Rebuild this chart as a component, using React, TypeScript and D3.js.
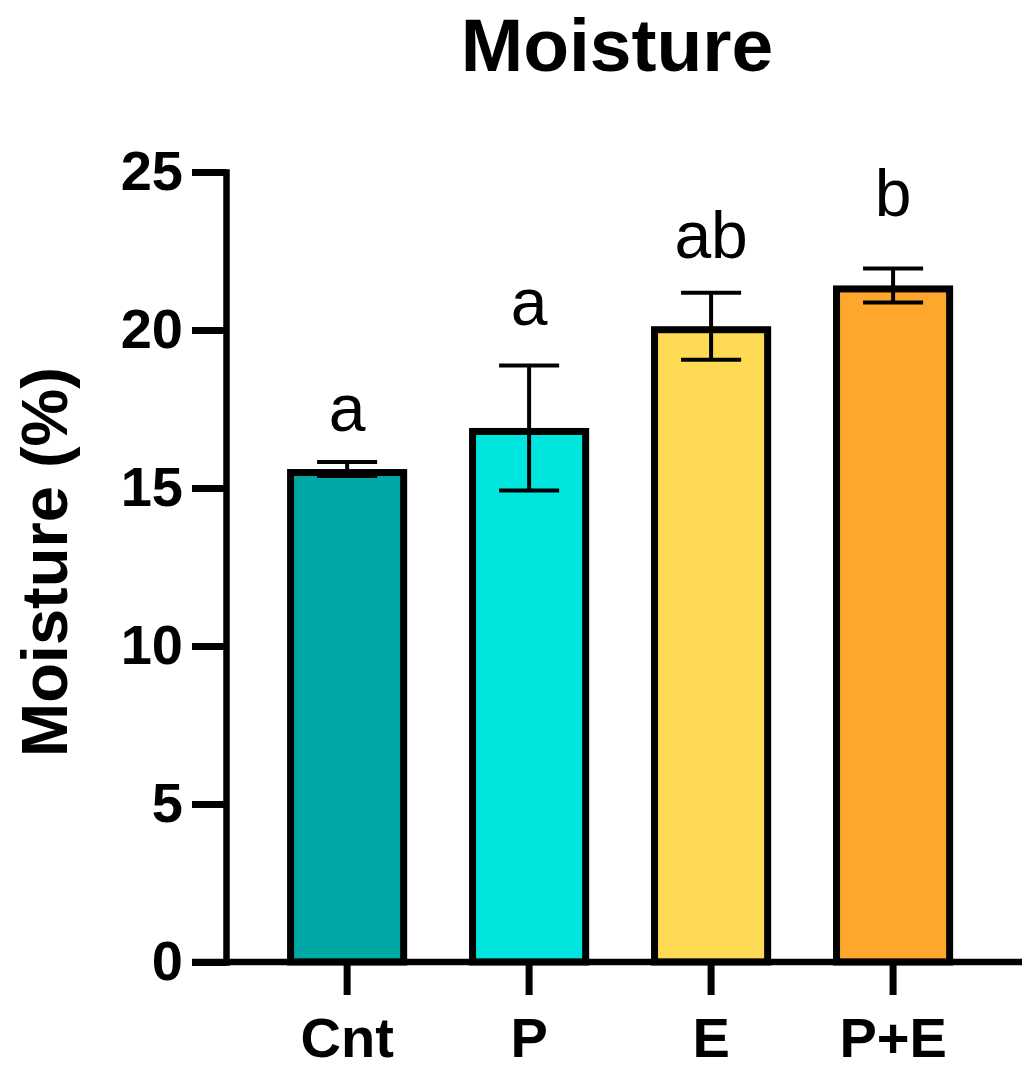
import React, { useEffect, useRef } from 'react';
import * as d3 from 'd3';

const groups = ['Cnt', 'P', 'E', 'P+E'];
const moisture = [15.6, 16.9, 20.12, 21.41];
const errors = [0.22, 1.98, 1.06, 0.54];
const letters = ['a', 'a', 'ab', 'b'];
// height (in % units) where each significance letter sits
const letterAt = [16.8, 20.17, 22.29, 23.61];
const colors = ['#00A8A5', '#00E6DF', '#FFDA55', '#FFA62C'];
const yTicks = [0, 5, 10, 15, 20, 25];

const FONT = '"Liberation Sans", Arial, Helvetica, sans-serif';

export default function App() {
  const svgRef = useRef<SVGSVGElement>(null);

  useEffect(() => {
    if (!svgRef.current) return;
    const svg = d3.select(svgRef.current);
    svg.selectAll('*').remove();

    const x = d3.scaleBand()
      .domain(groups)
      .range([226, 1022])
      .paddingInner(0.34)
      .paddingOuter(0.357)
      .align(0.47);

    const y = d3.scaleLinear()
      .domain([0, 25])
      .range([962, 172]);

    const bw = x.bandwidth();
    const sw = 7;

    // Bars (outer edge at the value, stroke drawn inside)
    svg.append('g')
      .selectAll('rect')
      .data(groups)
      .enter()
      .append('rect')
      .attr('x', (d) => x(d)! + sw / 2)
      .attr('y', (d, i) => y(moisture[i]) + sw / 2)
      .attr('width', bw - sw)
      .attr('height', (d, i) => y(0) - y(moisture[i]) - sw / 2)
      .attr('fill', (d, i) => colors[i])
      .attr('stroke', '#000')
      .attr('stroke-width', sw);

    // Error bars
    const eb = svg.append('g').attr('stroke', '#000').attr('stroke-width', 4);
    groups.forEach((g, i) => {
      const cx = x(g)! + bw / 2;
      const hi = y(moisture[i] + errors[i]);
      const lo = y(moisture[i] - errors[i]);
      eb.append('line').attr('x1', cx).attr('x2', cx).attr('y1', hi).attr('y2', lo);
      eb.append('line').attr('x1', cx - bw / 4).attr('x2', cx + bw / 4).attr('y1', hi).attr('y2', hi);
      eb.append('line').attr('x1', cx - bw / 4).attr('x2', cx + bw / 4).attr('y1', lo).attr('y2', lo);
    });

    // Significance letters
    svg.append('g')
      .selectAll('text')
      .data(groups)
      .enter()
      .append('text')
      .attr('x', (d) => x(d)! + bw / 2)
      .attr('y', (d, i) => y(letterAt[i]))
      .attr('text-anchor', 'middle')
      .style('font-family', FONT)
      .style('font-size', '66px')
      .text((d, i) => letters[i]);

    // X axis
    const xAxis = svg.append('g')
      .attr('transform', `translate(0,${y(0)})`)
      .call(d3.axisBottom(x).tickSize(33).tickSizeOuter(0).tickPadding(22));
    xAxis.select('.domain')
      .attr('stroke', '#000')
      .attr('stroke-width', 6.5)
      .attr('d', `M192,0H1022`);
    xAxis.selectAll('.tick line').attr('stroke', '#000').attr('stroke-width', 7);
    xAxis.selectAll('.tick text')
      .attr('fill', '#000')
      .style('font-family', FONT)
      .style('font-size', '56px')
      .style('font-weight', 'bold');

    // Y axis
    const yAxis = svg.append('g')
      .attr('transform', 'translate(226,0)')
      .call(d3.axisLeft(y).tickValues(yTicks).tickSize(34).tickSizeOuter(0).tickPadding(9));
    yAxis.select('.domain')
      .attr('stroke', '#000')
      .attr('stroke-width', 6.5)
      .attr('stroke-linecap', 'square');
    yAxis.selectAll('.tick line').attr('stroke', '#000').attr('stroke-width', 7);
    yAxis.selectAll('.tick text')
      .attr('fill', '#000')
      .style('font-family', FONT)
      .style('font-size', '56px')
      .style('font-weight', 'bold');

    // Title
    svg.append('text')
      .attr('x', 617)
      .attr('y', 71)
      .attr('text-anchor', 'middle')
      .style('font-family', FONT)
      .style('font-size', '75px')
      .style('font-weight', 'bold')
      .text('Moisture');

    // Y label
    svg.append('text')
      .attr('transform', 'translate(67,562) rotate(-90)')
      .attr('text-anchor', 'middle')
      .style('font-family', FONT)
      .style('font-size', '65px')
      .style('font-weight', 'bold')
      .text('Moisture (%)');
  }, []);

  return (
    <svg
      ref={svgRef}
      width={1035}
      height={1077}
      style={{ position: 'absolute', left: 0, top: 0, background: '#fff' }}
    />
  );
}
